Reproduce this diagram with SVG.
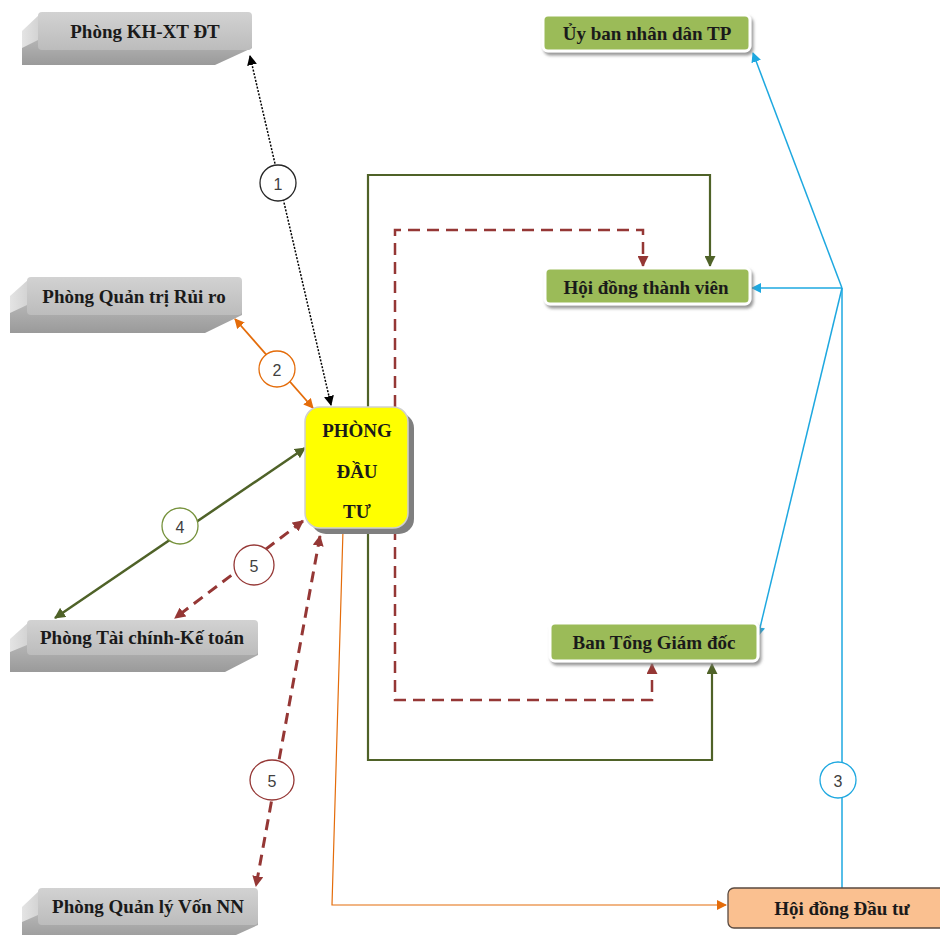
<svg xmlns="http://www.w3.org/2000/svg" width="940" height="935" viewBox="0 0 940 935">
<defs>
<linearGradient id="gTop" x1="0" y1="0" x2="0" y2="1"><stop offset="0" stop-color="#d2d2d2"/><stop offset="1" stop-color="#bcbcbc"/></linearGradient>
<linearGradient id="gBot" x1="0" y1="0" x2="0" y2="1"><stop offset="0" stop-color="#b4b4b4"/><stop offset="1" stop-color="#9a9a9a"/></linearGradient>
<linearGradient id="gSide" x1="0" y1="0" x2="1" y2="0"><stop offset="0" stop-color="#e4e4e4"/><stop offset="1" stop-color="#bdbdbd"/></linearGradient>
<filter id="sh" x="-10%" y="-20%" width="130%" height="160%"><feDropShadow dx="2" dy="3" stdDeviation="1.5" flood-color="#7f7f7f" flood-opacity="0.8"/></filter>
<marker id="mK" viewBox="0 0 10 10" refX="9" refY="5" markerWidth="10" markerHeight="10" markerUnits="userSpaceOnUse" orient="auto-start-reverse"><path d="M0,0 L10,5 L0,10 z" fill="#000"/></marker>
<marker id="mO" viewBox="0 0 10 10" refX="9" refY="5" markerWidth="10" markerHeight="10" markerUnits="userSpaceOnUse" orient="auto-start-reverse"><path d="M0,0 L10,5 L0,10 z" fill="#e46c0a"/></marker>
<marker id="mG" viewBox="0 0 10 10" refX="9" refY="5" markerWidth="11" markerHeight="11" markerUnits="userSpaceOnUse" orient="auto-start-reverse"><path d="M0,0 L10,5 L0,10 z" fill="#4f6228"/></marker>
<marker id="mR" viewBox="0 0 10 10" refX="9" refY="5" markerWidth="11" markerHeight="11" markerUnits="userSpaceOnUse" orient="auto-start-reverse"><path d="M0,0 L10,5 L0,10 z" fill="#953735"/></marker>
<marker id="mB" viewBox="0 0 10 10" refX="9" refY="5" markerWidth="10" markerHeight="10" markerUnits="userSpaceOnUse" orient="auto-start-reverse"><path d="M0,0 L10,5 L0,10 z" fill="#1ea8e0"/></marker>
<style>
.lbl{font-family:"Liberation Serif","Times New Roman",serif;font-weight:bold;font-size:19px;fill:#1a1a1a;text-anchor:middle;dominant-baseline:central}
.num{font-family:"Liberation Sans",Arial,sans-serif;font-size:16px;fill:#404040;text-anchor:middle;dominant-baseline:central}
.top{fill:url(#gTop)}
.bot{fill:url(#gBot)}
.side{fill:url(#gSide)}
.green{fill:#9bbb59;stroke:#fff;stroke-width:3;filter:url(#sh)}
.circ{fill:#fff;stroke-width:1.3}
</style>
</defs>
<rect width="940" height="935" fill="#fff"/>

<g id="connectors" fill="none">
  <line x1="250" y1="56" x2="331" y2="405" stroke="#000" stroke-width="1.5" stroke-dasharray="2,1.5" marker-start="url(#mK)" marker-end="url(#mK)"/>
  <line x1="235" y1="319" x2="313" y2="408" stroke="#e46c0a" stroke-width="1.8" marker-start="url(#mO)" marker-end="url(#mO)"/>
  <line x1="305" y1="448" x2="55" y2="618" stroke="#4f6228" stroke-width="2.5" marker-start="url(#mG)" marker-end="url(#mG)"/>
  <line x1="303" y1="521" x2="175" y2="618" stroke="#953735" stroke-width="3" stroke-dasharray="11,7" marker-start="url(#mR)" marker-end="url(#mR)"/>
  <line x1="320" y1="536" x2="256" y2="886" stroke="#953735" stroke-width="3" stroke-dasharray="11,7" marker-start="url(#mR)" marker-end="url(#mR)"/>
  <polyline points="368,407 368,175 710,175 710,266" stroke="#4f6228" stroke-width="2.2" marker-end="url(#mG)"/>
  <polyline points="368,528 368,760 712,760 712,664" stroke="#4f6228" stroke-width="2.2" marker-end="url(#mG)"/>
  <polyline points="395,407 395,230 643,230 643,266" stroke="#953735" stroke-width="2.5" stroke-dasharray="12,7" marker-end="url(#mR)"/>
  <polyline points="395,528 395,700 652,700 652,664" stroke="#953735" stroke-width="2.5" stroke-dasharray="12,7" marker-end="url(#mR)"/>
  <polyline points="343,530 332,905 726,905" stroke="#e46c0a" stroke-width="1.2" marker-end="url(#mO)"/>
  <polyline points="842,888 842,288" stroke="#1ea8e0" stroke-width="1.5"/>
  <line x1="842" y1="288" x2="753" y2="53" stroke="#1ea8e0" stroke-width="1.5" marker-end="url(#mB)"/>
  <line x1="842" y1="288" x2="752" y2="288" stroke="#1ea8e0" stroke-width="1.5" marker-end="url(#mB)"/>
  <line x1="842" y1="288" x2="758" y2="636" stroke="#1ea8e0" stroke-width="1.5" marker-end="url(#mB)"/>
  <circle class="circ" cx="278" cy="183" r="18" stroke="#262626"/>
  <text class="num" x="278" y="184">1</text>
  <circle class="circ" cx="277" cy="369" r="18" stroke="#e46c0a"/>
  <text class="num" x="277" y="370">2</text>
  <circle class="circ" cx="180" cy="526" r="18" stroke="#76923c"/>
  <text class="num" x="180" y="527">4</text>
  <circle class="circ" cx="254" cy="565" r="20" stroke="#953735"/>
  <text class="num" x="254" y="566">5</text>
  <ellipse class="circ" cx="272" cy="780" rx="22" ry="20" stroke="#953735"/>
  <text class="num" x="272" y="781">5</text>
  <circle class="circ" cx="838" cy="780" r="18" stroke="#1ea8e0"/>
  <text class="num" x="838" y="781">3</text>
</g>

<g id="phong-khxt">
  <polygon class="side" points="40,14 22,31 22,65 60,65"/>
  <polygon class="bot" points="38,40 22,48 22,65 215,65 252,48 252,40"/>
  <rect class="top" x="38" y="12" width="214" height="38" rx="4"/>
  <text class="lbl" x="145" y="31">Phòng KH-XT ĐT</text>
</g>

<g id="phong-qtrr">
  <polygon class="side" points="29,279 10,296 10,333 50,333"/>
  <polygon class="bot" points="27,305 10,313 10,333 205,333 242,315 242,305"/>
  <rect class="top" x="27" y="277" width="215" height="38" rx="4"/>
  <text class="lbl" x="134" y="296">Phòng Quản trị Rủi ro</text>
</g>

<g id="phong-tckt">
  <polygon class="side" points="29,622 10,639 10,672 50,672"/>
  <polygon class="bot" points="27,645 10,652 10,672 225,672 258,655 258,645"/>
  <rect class="top" x="27" y="620" width="231" height="35" rx="4"/>
  <text class="lbl" x="142" y="637">Phòng Tài chính-Kế toán</text>
</g>

<g id="phong-qlvnn">
  <polygon class="side" points="40,890 22,907 22,940 60,940"/>
  <polygon class="bot" points="38,915 22,922 22,940 225,940 258,925 258,915"/>
  <rect class="top" x="38" y="888" width="220" height="37" rx="4"/>
  <text class="lbl" x="148" y="906">Phòng Quản lý Vốn NN</text>
</g>

<g id="phong-dau-tu">
  <rect x="311" y="413" width="103" height="121" rx="15" fill="#7f7f7f"/>
  <rect x="305" y="407" width="103" height="121" rx="15" fill="#ffff00" stroke="#cfcfcf" stroke-width="1.5"/>
  <text class="lbl" x="357" y="430">PHÒNG</text>
  <text class="lbl" x="357" y="471">ĐẦU</text>
  <text class="lbl" x="357" y="511">TƯ</text>
</g>

<g id="ubnd">
  <rect class="green" x="543" y="15" width="207" height="36" rx="5"/>
  <text class="lbl" x="647" y="33">Ủy ban nhân dân TP</text>
</g>

<g id="hdtv">
  <rect class="green" x="545" y="268" width="205" height="36" rx="5"/>
  <text class="lbl" x="646" y="287">Hội đồng thành viên</text>
</g>

<g id="btgd">
  <rect class="green" x="550" y="623" width="208" height="38" rx="5"/>
  <text class="lbl" x="654" y="642">Ban Tổng Giám đốc</text>
</g>

<g id="hddt">
  <rect x="728" y="888" width="220" height="40" rx="6" fill="#fac090" stroke="#5a4a40" stroke-width="1.3"/>
  <text class="lbl" x="842" y="908">Hội đồng Đầu tư</text>
</g>
</svg>
